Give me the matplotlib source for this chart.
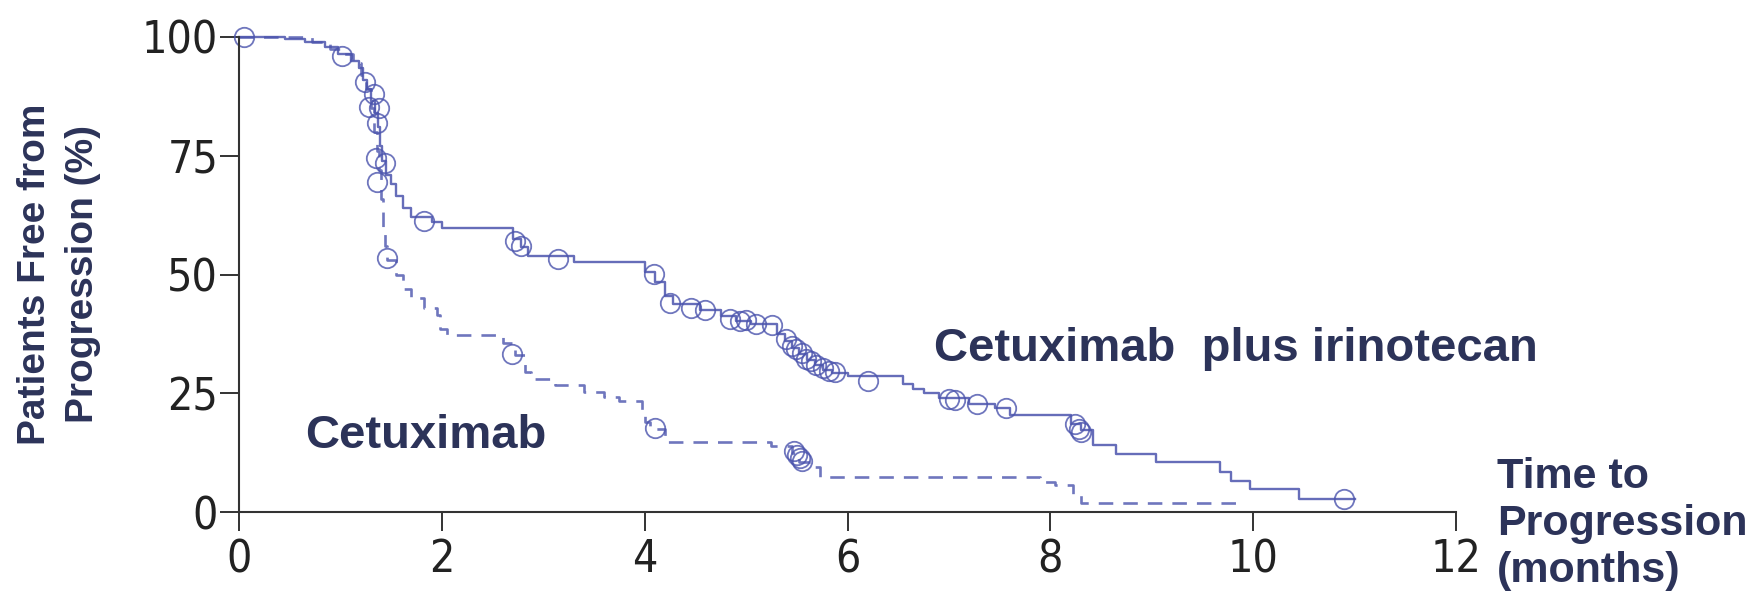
import matplotlib
matplotlib.use("Agg")
import matplotlib.pyplot as plt
from matplotlib import font_manager as fm

# ---- data ----
x_ticks = [0, 2, 4, 6, 8, 10, 12]
y_ticks = [0, 25, 50, 75, 100]

# Cetuximab plus irinotecan (solid): step times (months) and % free from progression
combo_t = [0, 0.45, 0.65, 0.85, 0.98, 1.10, 1.18, 1.22, 1.26, 1.30, 1.34, 1.37, 1.39, 1.41,
           1.45, 1.50, 1.55, 1.62, 1.70, 1.90, 2.00, 2.70, 2.78, 2.85, 3.30, 4.00, 4.10,
           4.20, 4.28, 4.55, 4.75, 4.90, 5.05, 5.30, 5.38, 5.45, 5.52, 5.60, 5.68, 5.76,
           5.85, 6.00, 6.55, 6.65, 6.75, 6.90, 7.20, 7.45, 7.60, 8.20, 8.30, 8.42, 8.65,
           9.04, 9.67, 9.78, 9.97, 10.45, 11.0]
combo_s = [100, 99.5, 99, 97.8, 96.5, 95, 93.5, 91, 89, 86.5, 84, 81, 77, 74,
           71, 69, 66.5, 64, 62.2, 61, 59.7, 57.5, 55.8, 54, 52.7, 50.5, 48.5,
           45.5, 43.8, 42.5, 41.2, 40.3, 39.5, 37.5, 36, 34.5, 33.2, 32, 31, 30,
           29.2, 28.6, 27, 26, 25, 24, 22.8, 21.8, 20.4, 18.5, 17.2, 14.1, 12.2,
           10.6, 8.5, 6.5, 4.8, 2.7, 2.7]
combo_cens_t = [0.05, 1.02, 1.24, 1.28, 1.33, 1.38, 1.36, 1.35, 1.44, 1.82, 2.72, 2.78, 3.15,
                4.09, 4.25, 4.46, 4.59, 4.84, 4.94, 5.00, 5.10, 5.26, 5.39, 5.45, 5.49, 5.55,
                5.59, 5.64, 5.69, 5.76, 5.82, 5.88, 6.20, 7.00, 7.06, 7.28, 7.56, 8.24,
                8.28, 8.30, 10.90]
combo_cens_s = [100, 96, 90.6, 85.3, 88.1, 85, 82, 74.5, 73.4, 61.2, 57, 55.9, 53.3,
                50.2, 44, 43, 42.5, 40.6, 40.2, 40.4, 39.5, 39.4, 36.5, 35, 34.3, 33.5,
                32.3, 31.8, 31, 30.3, 29.7, 29.4, 27.5, 23.8, 23.6, 22.7, 21.8, 18.5,
                17.5, 16.8, 2.7]

# Cetuximab alone (dashed)
mono_t = [0, 0.72, 0.90, 1.00, 1.12, 1.20, 1.25, 1.30, 1.33, 1.36, 1.38, 1.40, 1.42, 1.44,
          1.46, 1.55, 1.62, 1.70, 1.82, 1.95, 1.98, 2.05, 2.60, 2.72, 2.82, 2.88, 3.12,
          3.40, 3.60, 3.75, 3.97, 4.00, 4.05, 4.20, 5.25, 5.45, 5.52, 5.65, 5.73, 7.90,
          8.05, 8.22, 8.30, 9.92]
mono_s = [100, 99, 97.5, 96.5, 94.5, 92, 89, 85, 80, 76, 72, 66, 60, 56,
          53, 50, 47, 45, 43, 41.5, 38.5, 37.3, 35.5, 33, 29.5, 28, 26.8,
          25.2, 24.2, 23.3, 21.5, 19, 17.5, 14.8, 13.8, 12.4, 10.6, 9.5, 7.4, 6.4,
          5.6, 3.6, 2.0, 2.0]
mono_cens_t = [1.36, 1.46, 2.69, 4.10, 5.47, 5.50, 5.53, 5.55]
mono_cens_s = [69.5, 53.4, 33.2, 17.7, 12.8, 12.0, 11.3, 10.8]


# ---- pick a narrow font for the tick numbers if one is installed ----
def pick_narrow():
    best = None
    for f in fm.fontManager.ttflist:
        st = str(f.stretch).lower()
        narrow = ("narrow" in f.name.lower() or "condensed" in f.name.lower()
                  or st in ("condensed", "semi-condensed", "extra-condensed", "ultra-condensed")
                  or (st.isdigit() and int(st) < 500))
        if not narrow or str(f.style) != "normal":
            continue
        try:
            w = int(f.weight)
        except (TypeError, ValueError):
            w = {"light": 300, "normal": 400, "regular": 400, "book": 400}.get(str(f.weight), 700)
        if w > 400:
            continue
        score = abs(w - 350)
        if "semi" in st:
            score += 100
        if "extra" in st or "ultra" in st:
            score += 150
        if best is None or score < best[0]:
            best = (score, f.fname)
    return best[1] if best else None


narrow_path = pick_narrow()
if narrow_path:
    tick_prop = fm.FontProperties(fname=narrow_path, size=32)
else:
    tick_prop = fm.FontProperties(family=["DejaVu Sans"], size=29)

# ---- style ----
W, H = 1754, 600
line_c = "#4b54ad"
text_c = "#2c3359"
axis_c = "#333333"
lab_font = ["Liberation Sans", "DejaVu Sans"]

fig = plt.figure(figsize=(W / 100, H / 100), dpi=100)
x0, x1, yb, yt = 239, 1456, 512, 37
ax = fig.add_axes([x0 / W, 1 - yb / H, (x1 - x0) / W, (yb - yt) / H])
ax.set_xlim(0, 12)
ax.set_ylim(0, 100)

ax.step(combo_t, combo_s, where="post", color=line_c, lw=1.7, alpha=0.85, clip_on=False)
ax.step(mono_t, mono_s, where="post", color=line_c, lw=1.9, alpha=0.8,
        linestyle=(0, (5.5, 3.8)), clip_on=False)
ax.plot(combo_cens_t, combo_cens_s, "o", mfc="none", mec=line_c, ms=14, mew=1.3,
        alpha=0.8, clip_on=False)
ax.plot(mono_cens_t, mono_cens_s, "o", mfc="none", mec=line_c, ms=14, mew=1.3,
        alpha=0.8, clip_on=False)

for s in ["top", "right"]:
    ax.spines[s].set_visible(False)
for s in ["left", "bottom"]:
    ax.spines[s].set_color(axis_c)
    ax.spines[s].set_linewidth(1.5)

ax.set_xticks(x_ticks)
ax.set_yticks(y_ticks)
ax.set_xticklabels([str(v) for v in x_ticks])
ax.set_yticklabels([str(v) for v in y_ticks])
ax.tick_params(axis="both", direction="out", length=14, width=1.4, color=axis_c,
               labelcolor="#222222")
ax.tick_params(axis="y", pad=1)
ax.tick_params(axis="x", pad=5)
for lab in ax.get_xticklabels() + ax.get_yticklabels():
    lab.set_fontproperties(tick_prop)

# labels
fig.text(59 / W, 1 - 274 / H, "Patients Free from\nProgression (%)", rotation=90,
         ha="center", va="center", multialignment="center", fontsize=28,
         fontweight="bold", color=text_c, family=lab_font, linespacing=1.42)
fig.text(1497 / W, 1 - 524 / H, "Time to\nProgression\n(months)", ha="left", va="center",
         fontsize=31, fontweight="bold", color=text_c, family=lab_font, linespacing=1.22)
fig.text(934 / W, 1 - 349 / H, "Cetuximab  plus irinotecan", ha="left", va="center",
         fontsize=34, fontweight="bold", color=text_c, family=lab_font)
fig.text(305 / W, 1 - 436 / H, "Cetuximab", ha="left", va="center",
         fontsize=34, fontweight="bold", color=text_c, family=lab_font)

fig.savefig("out.png", dpi=100, facecolor="white")
